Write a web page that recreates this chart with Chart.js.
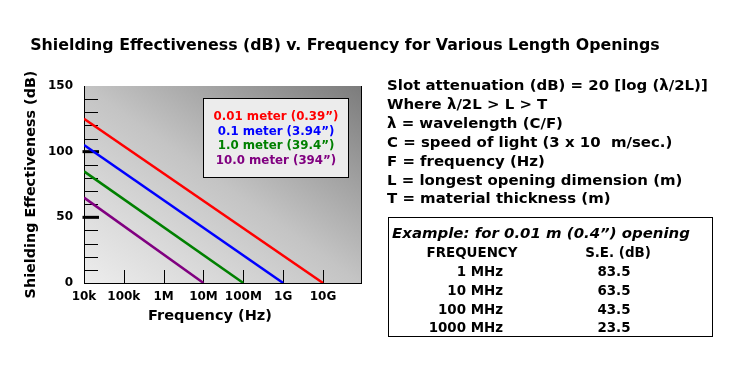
<!DOCTYPE html>
<html><head><meta charset="utf-8">
<script src="https://cdn.jsdelivr.net/npm/chart.js@4.4.1/dist/chart.umd.min.js"></script>
<style>
html,body{margin:0;padding:0;background:#fff;width:745px;height:379px;overflow:hidden;}
#wrap{position:relative;width:745px;height:379px;}
#c{position:absolute;left:0;top:0;}
</style></head><body>
<div id="wrap"><canvas id="c" width="745" height="379"></canvas></div>
<script>
// ---- data ----
const seriesLabels = ['0.01 meter (0.39\u201D)', '0.1 meter (3.94\u201D)', '1.0 meter (39.4\u201D)', '10.0 meter (394\u201D)'];
const seriesColors = ['#ff0000', '#0000ff', '#008000', '#800080'];
const startFreqHz = [1e4, 1e4, 1e4, 1e4];
const startSE = [125, 105, 85, 65];
const endFreqHz = [1e10, 1e9, 1e8, 1e7];
const endSE = [0, 0, 0, 0];
const xTickValues = [1e4, 1e5, 1e6, 1e7, 1e8, 1e9, 1e10];
const xTickLabels = ['10k', '100k', '1M', '10M', '100M', '1G', '10G'];
const yTickValues = [0, 50, 100, 150];
const yMajorTicks = [50, 100];
const yMinorTicks = [10, 20, 30, 40, 60, 70, 80, 90, 110, 120, 130, 140];
const chartTitle = 'Shielding Effectiveness (dB) v. Frequency for Various Length Openings';
const xTitle = 'Frequency (Hz)';
const yTitle = 'Shielding Effectiveness (dB)';
const noteLines = ['Slot attenuation (dB) = 20 [log (\u03BB/2L)]', 'Where \u03BB/2L > L > T', '\u03BB = wavelength (C/F)', 'C = speed of light (3 x 10  m/sec.)', 'F = frequency (Hz)', 'L = longest opening dimension (m)', 'T = material thickness (m)'];
const tableCaption = 'Example: for 0.01 m (0.4\u201D) opening';
const tableHeaders = ['FREQUENCY', 'S.E. (dB)'];
const tableFreq = ['1 MHz', '10 MHz', '100 MHz', '1000 MHz'];
const tableSE = ['83.5', '63.5', '43.5', '23.5'];

// ---- helpers ----
const FAMILY = '"DejaVu Sans", Verdana, sans-serif';
const mctx = document.createElement('canvas').getContext('2d');
function fitSize(text, target, style) {
  mctx.font = style + ' 100px ' + FAMILY;
  return 100 * target / mctx.measureText(text).width;
}
const wrap = document.getElementById('wrap');
function place(text, o) {
  const d = document.createElement('div');
  d.textContent = text;
  const style = o.style || 'bold';
  d.style.cssText = 'position:absolute;white-space:pre;font:' + style + ' ' + o.size + 'px ' + FAMILY +
    ';line-height:20px;height:20px;top:' + (o.cy - 10) + 'px;color:' + (o.color || '#000');
  if (o.align === 'right') d.style.right = (745 - o.x) + 'px';
  else if (o.align === 'center') { d.style.left = o.x + 'px'; d.style.transform = 'translateX(-50%)'; }
  else d.style.left = o.x + 'px';
  wrap.appendChild(d);
}

// title
place(chartTitle, {x: 345, cy: 45, align: 'center', size: fitSize(chartTitle, 630, 'bold')});
// notes
const noteSize = fitSize(noteLines[0], 321, 'bold');
noteLines.forEach((t, i) => place(t, {x: 387, cy: 85 + i * 18.9, size: noteSize}));
// table
const box = document.createElement('div');
box.style.cssText = 'position:absolute;left:388px;top:217px;width:325px;height:120px;box-sizing:border-box;border:1px solid #000;';
wrap.appendChild(box);
place(tableCaption, {x: 541, cy: 233, align: 'center', size: fitSize(tableCaption, 298, 'italic bold'), style: 'italic bold'});
const tSize = fitSize(tableHeaders[0], 91, 'bold');
place(tableHeaders[0], {x: 472, cy: 252.7, align: 'center', size: tSize});
place(tableHeaders[1], {x: 618, cy: 252.7, align: 'center', size: tSize});
tableFreq.forEach((f, i) => {
  const cy = 271.7 + i * 18.9;
  place(f, {x: 503, cy: cy, align: 'right', size: tSize});
  place(tableSE[i], {x: 614, cy: cy, align: 'center', size: tSize});
});

// ---- chart ----
const bgPlugin = {
  id: 'bg',
  beforeDraw(chart) {
    const {ctx, chartArea: a} = chart;
    const w = a.right - a.left, h = a.bottom - a.top;
    const cx = (a.left + a.right) / 2, cy = (a.top + a.bottom) / 2;
    const n = Math.hypot(w, h);
    const ux = h / n, uy = -w / n;
    const L = (w / 2) * Math.abs(ux) + (h / 2) * Math.abs(uy);
    const g = ctx.createLinearGradient(cx - ux * L, cy - uy * L, cx + ux * L, cy + uy * L);
    g.addColorStop(0, '#ededed');
    g.addColorStop(0.5, '#c4c4c4');
    g.addColorStop(1, '#7c7c7c');
    ctx.save();
    ctx.fillStyle = g;
    ctx.fillRect(a.left, a.top, w, h);
    ctx.restore();
  }
};
const ticksPlugin = {
  id: 'ticksMarks',
  beforeDatasetsDraw(chart) {
    const {ctx, chartArea: a, scales: {x, y}} = chart;
    ctx.save();
    ctx.strokeStyle = '#000';
    ctx.lineWidth = 1;
    yMinorTicks.forEach(v => {
      const py = Math.round(y.getPixelForValue(v)) + 0.5;
      ctx.beginPath(); ctx.moveTo(a.left, py); ctx.lineTo(a.left + 14, py); ctx.stroke();
    });
    ctx.lineWidth = 3;
    yMajorTicks.forEach(v => {
      const py = y.getPixelForValue(v);
      ctx.beginPath(); ctx.moveTo(a.left - 1.5, py); ctx.lineTo(a.left + 15, py); ctx.stroke();
    });
    ctx.lineWidth = 1;
    xTickValues.slice(1).forEach(v => {
      const px = Math.round(x.getPixelForValue(v)) + 0.5;
      ctx.beginPath(); ctx.moveTo(px, a.bottom); ctx.lineTo(px, a.bottom - 13); ctx.stroke();
    });
    ctx.beginPath(); ctx.moveTo(Math.round(a.right) + 0.5, a.top); ctx.lineTo(Math.round(a.right) + 0.5, a.bottom); ctx.stroke();
    ctx.restore();
  }
};
const legendPlugin = {
  id: 'legendBox',
  afterDatasetsDraw(chart) {
    const {ctx} = chart;
    ctx.save();
    ctx.fillStyle = '#ececec'; ctx.strokeStyle = '#000'; ctx.lineWidth = 1;
    ctx.fillRect(203.5, 98.5, 145, 79);
    ctx.strokeRect(203.5, 98.5, 145, 79);
    const size = fitSize(seriesLabels[0], 125, 'bold');
    ctx.font = 'bold ' + size + 'px ' + FAMILY;
    ctx.textAlign = 'center'; ctx.textBaseline = 'alphabetic';
    const ys = [116, 130.5, 145, 160];
    chart.data.datasets.forEach((ds, i) => {
      ctx.fillStyle = ds.borderColor;
      ctx.fillText(ds.label, 276, ys[i] + 0.365 * size);
    });
    ctx.restore();
  }
};
const xTitlePlugin = {
  id: 'xTitle',
  afterDraw(chart) {
    const {ctx} = chart;
    const size = fitSize(xTitle, 124, 'bold');
    ctx.save();
    ctx.font = 'bold ' + size + 'px ' + FAMILY;
    ctx.fillStyle = '#000'; ctx.textAlign = 'center'; ctx.textBaseline = 'alphabetic';
    ctx.fillText(xTitle, 210, 315 + 0.365 * size);
    ctx.restore();
  }
};

const datasets = seriesLabels.map((label, i) => ({
  label: label,
  data: [{x: startFreqHz[i], y: startSE[i]}, {x: endFreqHz[i], y: endSE[i]}],
  borderColor: seriesColors[i],
  backgroundColor: seriesColors[i],
  borderWidth: 2.5,
  pointRadius: 0,
  showLine: true,
  fill: false,
  tension: 0
}));

const yTitleSize = fitSize(yTitle, 228, 'bold');
const tickFont = {family: FAMILY, weight: 'bold', size: 12};

new Chart(document.getElementById('c'), {
  type: 'scatter',
  data: {datasets: datasets},
  options: {
    responsive: false,
    animation: false,
    events: [],
    layout: {padding: {left: 0, top: 86, right: 384, bottom: 56}},
    plugins: {legend: {display: false}, tooltip: {enabled: false}, title: {display: false}},
    scales: {
      x: {
        type: 'logarithmic', min: 1e4, max: 9e10, position: 'bottom',
        afterBuildTicks: s => { s.ticks = xTickValues.map(v => ({value: v})); },
        afterFit: s => { s.height = 40; },
        ticks: {
          autoSkip: false, maxRotation: 0, minRotation: 0, padding: 7, color: '#000', font: tickFont,
          callback: v => { const i = xTickValues.findIndex(t => Math.abs(t - v) / t < 1e-6); return i >= 0 ? xTickLabels[i] : ''; }
        },
        grid: {display: false, drawTicks: false},
        border: {display: true, color: '#000', width: 1}
      },
      y: {
        min: 0, max: 150, position: 'left',
        afterBuildTicks: s => { s.ticks = yTickValues.map(v => ({value: v})); },
        afterFit: s => { s.width = 84; },
        ticks: {padding: 11, color: '#000', font: tickFont},
        grid: {display: false, drawTicks: false},
        border: {display: true, color: '#000', width: 1},
        title: {display: true, text: yTitle, color: '#000',
          font: {family: FAMILY, weight: 'bold', size: yTitleSize},
          padding: {top: 31 - yTitleSize * 0.6, bottom: 0}}
      }
    }
  },
  plugins: [bgPlugin, ticksPlugin, legendPlugin, xTitlePlugin]
});
</script>
</body></html>
